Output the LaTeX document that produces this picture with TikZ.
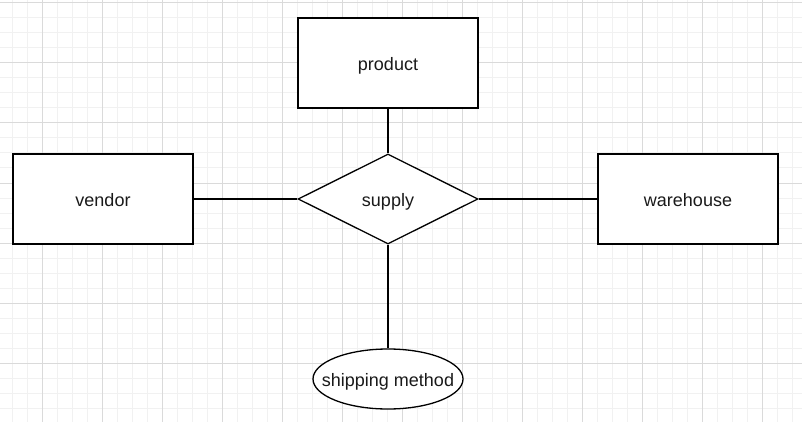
\documentclass[tikz,border=0pt]{standalone}
\usepackage{fontspec}
\setmainfont{Liberation Sans}
\usetikzlibrary{shapes.geometric}
\definecolor{minorgrid}{HTML}{F1F1F1}
\definecolor{majorgrid}{HTML}{DADADA}
\definecolor{txt}{HTML}{1A1A1A}
\tikzset{
  lbl/.style={text=txt, font=\fontsize{18pt}{20pt}\selectfont, text height=18pt, text depth=3pt},
  entity/.style={draw=black, line width=1.3pt, fill=white, minimum width=180pt, minimum height=90pt, inner sep=0pt, lbl},
  relation/.style={draw=black, line width=1.3pt, fill=white, diamond, aspect=2, minimum width=180pt, minimum height=90pt, inner sep=0pt, lbl},
  attr/.style={draw=black, line width=1.3pt, fill=white, ellipse, minimum width=150pt, minimum height=60pt, inner sep=0pt},
  conn/.style={draw=black, line width=1.3pt}
}
\begin{document}
\begin{tikzpicture}[x=1pt,y=-1pt]
\useasboundingbox (0,0) rectangle (802,422);
\fill[white] (0,0) rectangle (802,422);
\foreach \i in {0,...,53} {\draw[minorgrid, line width=1pt] (12+15*\i,0) -- (12+15*\i,422);}
\foreach \j in {0,...,28} {\draw[minorgrid, line width=1pt] (0,3+15*\j) -- (802,3+15*\j);}
\foreach \i in {0,...,12} {\draw[majorgrid, line width=1pt] (42+60*\i,0) -- (42+60*\i,422);}
\foreach \j in {0,...,7} {\draw[majorgrid, line width=1pt] (0,3+60*\j) -- (802,3+60*\j);}
\node[entity] (product) at (388,63) {product};
\node[entity] (vendor) at (103,199) {vendor};
\node[entity] (warehouse) at (688,199) {warehouse};
\node[relation] (supply) at (388,199) {supply};
\node[attr] (ship) at (388,379) {};
\node[lbl, inner sep=0pt] (shiplabel) at (ship.center) {shipping method};
\draw[conn] (product.south) -- (supply.north);
\draw[conn] (vendor.east) -- (supply.west);
\draw[conn] (supply.east) -- (warehouse.west);
\draw[conn] (supply.south) -- (ship.north);
\end{tikzpicture}
\end{document}
